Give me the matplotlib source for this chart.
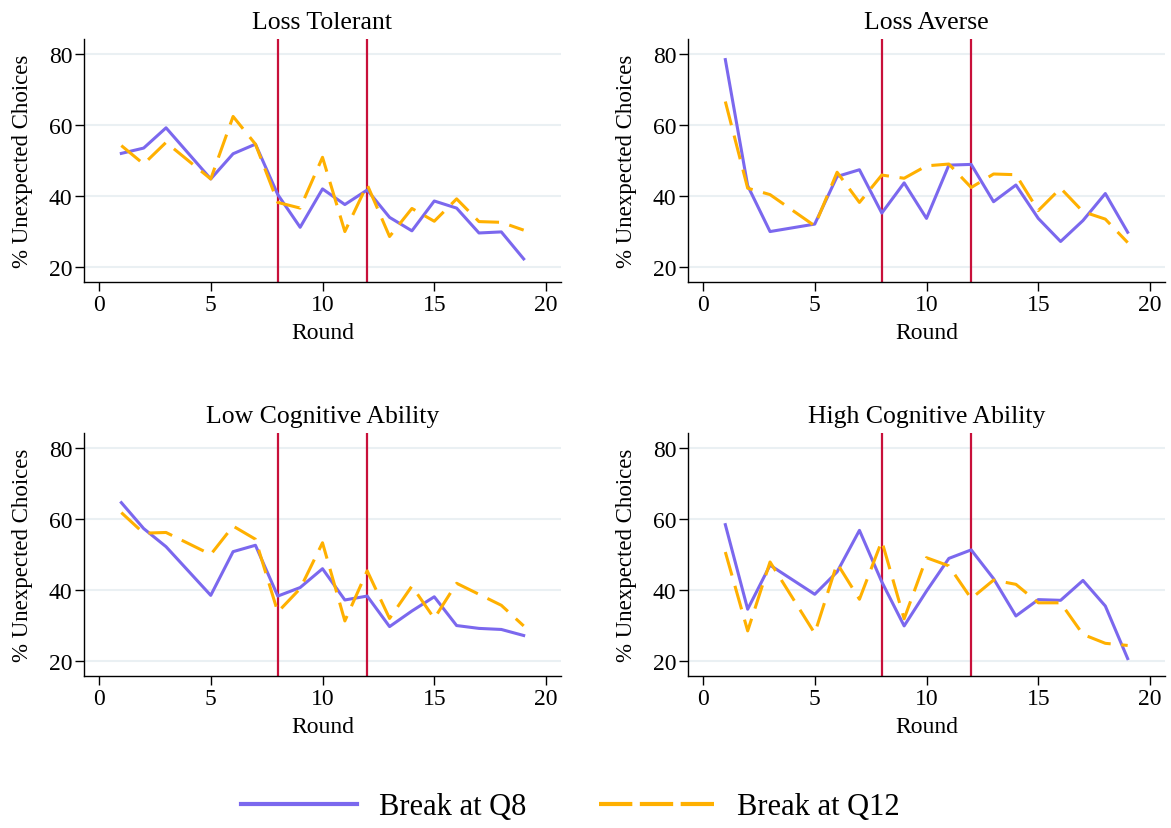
import matplotlib
matplotlib.use("Agg")
import matplotlib.pyplot as plt
from matplotlib.lines import Line2D

plt.rcParams["font.family"] = ["Liberation Serif", "DejaVu Serif"]

# rounds (round 4 not observed)
rounds = [1, 2, 3, 5, 6, 7, 8, 9, 10, 11, 12, 13, 14, 15, 16, 17, 18, 19]

titles = ["Loss Tolerant", "Loss Averse", "Low Cognitive Ability", "High Cognitive Ability"]

tol_q8 = [52.0, 53.5, 59.2, 44.8, 51.9, 54.6, 40.4, 31.2, 42.0, 37.6, 41.7, 34.0, 30.2, 38.6, 36.6, 29.6, 29.9, 22.3]
tol_q12 = [54.2, 49.0, 55.1, 44.8, 62.4, 54.6, 38.2, 36.6, 50.9, 30.0, 43.2, 28.6, 36.5, 32.9, 39.2, 32.8, 32.6, 30.4]

ave_q8 = [78.4, 42.9, 30.0, 32.1, 45.5, 47.4, 35.2, 43.7, 33.7, 48.7, 48.9, 38.4, 43.1, 33.7, 27.2, 33.1, 40.7, 29.8]
ave_q12 = [66.6, 42.2, 40.4, 31.6, 46.7, 38.2, 45.9, 45.0, 48.5, 49.0, 42.4, 46.2, 46.0, 35.9, 42.2, 35.6, 33.5, 26.9]

low_q8 = [64.6, 57.3, 52.2, 38.5, 50.8, 52.6, 38.3, 40.7, 46.0, 37.2, 38.3, 29.7, 34.1, 38.1, 30.0, 29.2, 28.9, 27.2]
low_q12 = [61.8, 56.0, 56.2, 50.0, 58.0, 54.3, 33.8, 40.4, 53.3, 31.3, 45.4, 32.0, 41.1, 32.0, 41.9, 38.8, 35.7, 29.9]

high_q8 = [58.4, 34.6, 47.0, 38.8, 45.1, 56.8, 42.3, 29.9, 39.7, 48.9, 51.3, 43.2, 32.7, 37.3, 37.1, 42.7, 35.5, 20.7]
high_q12 = [50.7, 28.5, 47.9, 27.8, 47.5, 37.4, 53.8, 31.9, 49.1, 46.8, 37.6, 42.8, 41.6, 36.4, 36.4, 27.5, 25.0, 24.4]

q8_series = [tol_q8, ave_q8, low_q8, high_q8]
q12_series = [tol_q12, ave_q12, low_q12, high_q12]
break_rounds = [8, 12]

PURPLE = "#7B68EE"
ORANGE = "#FFB000"
RED = "#C8103A"
GRID = "#EAF0F3"

W, H = 1171, 829
fig = plt.figure(figsize=(W / 100, H / 100), dpi=100)

# axes boxes in pixels: left, top, right, bottom
boxes = [(84, 40, 561, 283), (688, 40, 1165, 283),
         (84, 434, 561, 677), (688, 434, 1165, 677)]

for i, (l, t, r, b) in enumerate(boxes):
    ax = fig.add_axes([l / W, 1 - b / H, (r - l) / W, (b - t) / H])
    ax.set_xlim(-0.67, 20.67)
    ax.set_ylim(15.8, 84.2)
    ax.set_yticks([20, 40, 60, 80])
    ax.set_xticks([0, 5, 10, 15, 20])
    ax.grid(axis="y", color=GRID, linewidth=1.5)
    ax.set_axisbelow(True)
    for br in break_rounds:
        ax.axvline(br, color=RED, linewidth=1.6, zorder=2)
    ax.plot(rounds, q8_series[i], color=PURPLE, linewidth=2.2, zorder=3)
    ax.plot(rounds, q12_series[i], color=ORANGE, linewidth=2.2,
            dashes=(8, 3.5), zorder=3)
    for s in ["top", "right"]:
        ax.spines[s].set_visible(False)
    ax.spines["left"].set_linewidth(1.0)
    ax.spines["bottom"].set_linewidth(1.0)
    ax.tick_params(labelsize=17, length=6.5, width=1.0, direction="out", pad=2)
    ax.set_title(titles[i], fontsize=18.5, pad=8)
    ax.set_xlabel("Round", fontsize=17, labelpad=5)
    ax.set_ylabel("% Unexpected Choices", fontsize=16.5, labelpad=11)

handles = [Line2D([], [], color=PURPLE, linewidth=3),
           Line2D([], [], color=ORANGE, linewidth=3, dashes=(8, 1.8))]
fig.legend(handles, ["Break at Q8", "Break at Q12"], loc="center",
           bbox_to_anchor=(0.487, 1 - 808 / H), ncol=2, frameon=False,
           fontsize=22, handlelength=3.8, columnspacing=2.4, handletextpad=0.7)

fig.savefig("out.png", dpi=100)
